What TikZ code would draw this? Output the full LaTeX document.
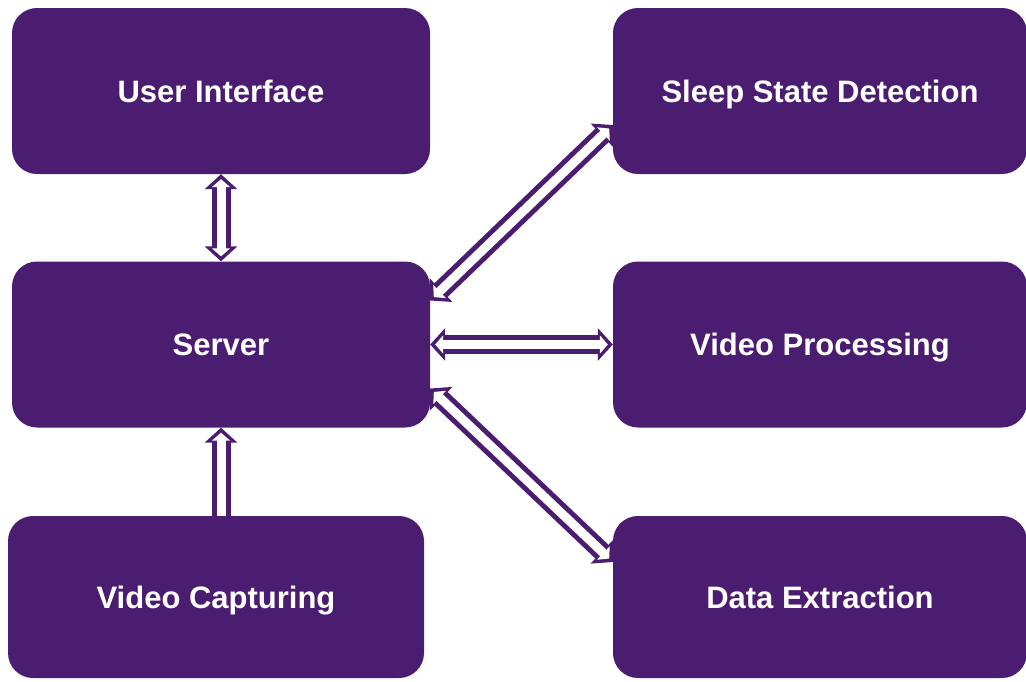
\documentclass[tikz,border=0pt]{standalone}
\usepackage{fontspec}
\setmainfont{Liberation Sans}
\usetikzlibrary{arrows.meta}

\definecolor{boxpurple}{RGB}{75,29,112}

\tikzset{
    outertip/.tip={Triangle[width=32pt,length=15pt]},
    innertip/.tip={Triangle[width=18pt,length=8pt]},
    box/.style={rectangle, rounded corners=25pt, fill=boxpurple, text=white,
        font=\fontsize{31}{36}\selectfont\bfseries, inner sep=0pt,
        text height=22pt, text depth=0pt,
        minimum width=418pt, minimum height=166pt},
    % hollow connectors: a wide purple path with a narrower white one on top
    both ways/.style={line width=9pt, draw=white, innertip-innertip,
        shorten >=5pt, shorten <=5pt,
        preaction={draw=boxpurple, line width=19pt, outertip-outertip,
            shorten >=0pt, shorten <=0pt}},
    one way/.style={line width=9pt, draw=white, -innertip, shorten >=5pt,
        preaction={draw=boxpurple, line width=19pt, -outertip,
            shorten >=0pt}},
}

\begin{document}
\begin{tikzpicture}[x=1pt, y=-1pt]
    \useasboundingbox (0,0) rectangle (1026,681);

    \node[box] (ui) at (221,91) {User Interface};
    \node[box] (server) at (221,344.5) {Server};
    \node[box, minimum width=416pt, minimum height=162pt] (capture) at (216,597) {Video Capturing};

    \node[box, minimum width=414pt] (sleep) at (820,91) {Sleep State Detection};
    \node[box, minimum width=414pt] (process) at (820,344.5) {Video Processing};
    \node[box, minimum width=414pt, minimum height=162pt] (extract) at (820,597) {Data Extraction};

    \draw[both ways] (ui) -- (server);
    \draw[one way] (capture.north -| server.south) -- (server.south);

    \draw[both ways] ([yshift=44pt]server.east) -- ([yshift=-34pt]sleep.west);
    \draw[both ways] (server.east) -- (process.west);
    \draw[both ways] ([yshift=-44pt]server.east) -- ([yshift=35pt]extract.west);
\end{tikzpicture}
\end{document}
